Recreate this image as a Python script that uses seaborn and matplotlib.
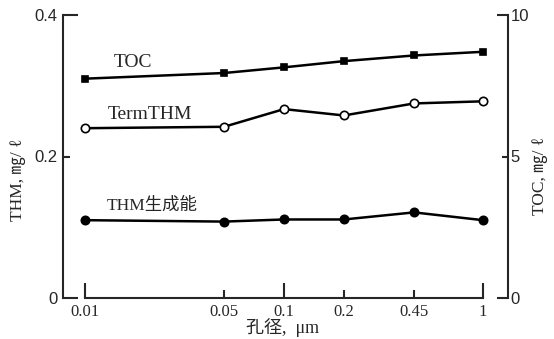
'''
Recreate the pore size vs THM / TOC chart
'''

# Import libraries
import numpy as np
import pandas as pd
import matplotlib
matplotlib.use('Agg')
import matplotlib.pyplot as plt
from matplotlib.ticker import FixedLocator, FixedFormatter
import seaborn as sns

# Data
pore_size = [0.01, 0.05, 0.1, 0.2, 0.45, 1]
toc = [7.75, 7.95, 8.15, 8.37, 8.57, 8.70]
term_thm = [0.240, 0.242, 0.267, 0.258, 0.275, 0.278]
thm_fp = [0.110, 0.108, 0.111, 0.111, 0.121, 0.110]

major_x = [0.01, 0.1, 1]
minor_x = [0.05, 0.2, 0.45]
major_x_labels = ['0.01', '0.1', '1']
minor_x_labels = ['0.05', '0.2', '0.45']

df = pd.DataFrame({'pore': pore_size, 'TOC': toc, 'TermTHM': term_thm, 'THM': thm_fp})

sns.set_style('ticks')
plt.rcParams['font.family'] = ['Liberation Serif', 'Noto Sans CJK JP', 'DejaVu Sans']
plt.rcParams['axes.linewidth'] = 1.5

W, H = 554, 339
fig = plt.figure(figsize=(W / 100, H / 100), dpi=100)
ax = fig.add_axes([63 / W, 41 / H, 445 / W, 283 / H])
ax2 = ax.twinx()

ax.set_xscale('log')
ax2.set_xscale('log')

line_kw = dict(color='black', linewidth=1.8, markeredgecolor='black', markeredgewidth=1.2)
sns.lineplot(data=df, x='pore', y='THM', ax=ax, marker='o', markersize=6, **line_kw)
sns.lineplot(data=df, x='pore', y='TermTHM', ax=ax, marker='o', markersize=6,
             markerfacecolor='white', **line_kw)
sns.lineplot(data=df, x='pore', y='TOC', ax=ax2, marker='s', markersize=5, **line_kw)

# x mapping: 0.01 -> 85 px, 1 -> 483 px, 199 px per decade
ax.set_xlim(10 ** (-2 - 22 / 199), 10 ** (25 / 199))
ax.set_ylim(0, 0.4)
ax2.set_ylim(0, 10)

# spines
for s in ['top', 'right']:
    ax.spines[s].set_visible(False)
for s in ['top', 'left', 'bottom']:
    ax2.spines[s].set_visible(False)
ax.spines['left'].set_bounds(0, 0.4)
ax.spines['bottom'].set_bounds(0.01, 1)
ax2.spines['right'].set_bounds(0, 10)
ax2.spines['right'].set_linewidth(1.5)

# x ticks
ax.xaxis.set_major_locator(FixedLocator(major_x))
ax.xaxis.set_major_formatter(FixedFormatter(major_x_labels))
ax.xaxis.set_minor_locator(FixedLocator(minor_x))
ax.xaxis.set_minor_formatter(FixedFormatter(minor_x_labels))
ax.tick_params(axis='x', which='major', direction='in', length=11, width=1.5, pad=4, labelsize=12)
ax.tick_params(axis='x', which='minor', direction='in', length=6, width=1.5, pad=4, labelsize=12)

# left y ticks
ax.yaxis.set_major_locator(FixedLocator([0, 0.4]))
ax.yaxis.set_major_formatter(FixedFormatter(['0', '0.4']))
ax.yaxis.set_minor_locator(FixedLocator([0.2]))
ax.yaxis.set_minor_formatter(FixedFormatter(['0.2']))
ax.tick_params(axis='y', which='major', direction='in', length=11, width=1.5, pad=4, labelsize=12)
ax.tick_params(axis='y', which='minor', direction='in', length=5, width=1.5, pad=4, labelsize=12)
for lab in ax.get_yticklabels(which='both'):
    lab.set_family(['Liberation Sans'])

# right y ticks
ax2.yaxis.set_major_locator(FixedLocator([0, 10]))
ax2.yaxis.set_major_formatter(FixedFormatter(['0', '10']))
ax2.yaxis.set_minor_locator(FixedLocator([5]))
ax2.yaxis.set_minor_formatter(FixedFormatter(['5']))
ax2.tick_params(axis='y', which='major', direction='in', length=8, width=1.5, pad=2, labelsize=12)
ax2.tick_params(axis='y', which='minor', direction='in', length=4, width=1.5, pad=2, labelsize=12)
for lab in ax2.get_yticklabels(which='both'):
    lab.set_family(['Liberation Sans'])

ax.set_xlabel('')
ax.set_ylabel('')
ax2.set_ylabel('')

# series labels
ax.text(0.0175, 0.333, 'TOC', ha='center', va='center', fontsize=14)
ax.text(0.0212, 0.259, 'TermTHM', ha='center', va='center', fontsize=14)
ax.text(0.0217, 0.131, 'THM生成能', ha='center', va='center', fontsize=12.5)

# axis titles
fig.text(18 / W, 1 - 180 / H, 'THM, ㎎/ ℓ', rotation=90, ha='center', va='center', fontsize=12.5)
fig.text(540 / W, 1 - 176 / H, 'TOC, ㎎/ ℓ', rotation=90, ha='center', va='center', fontsize=12.5)
fig.text(283 / W, 1 - 328 / H, '孔径,  μm', ha='center', va='center', fontsize=13)

fig.savefig('out.png', dpi=100)
